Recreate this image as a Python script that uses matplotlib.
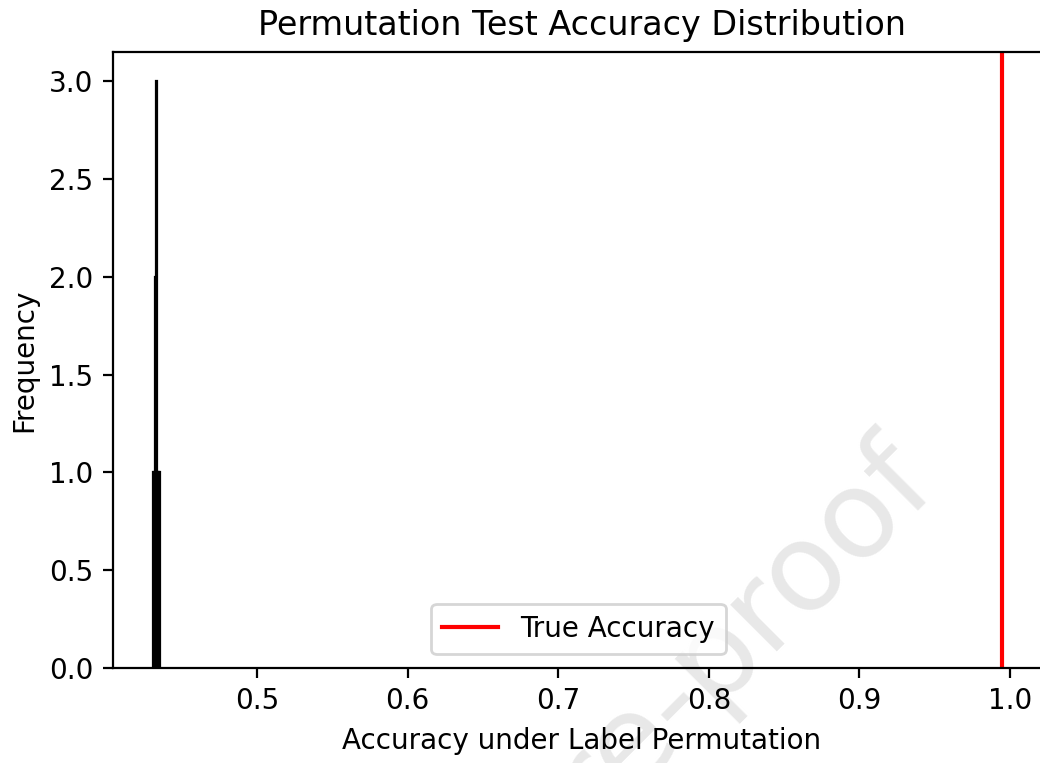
import numpy as np
import matplotlib
matplotlib.use('Agg')
import matplotlib.pyplot as plt

# accuracies obtained with shuffled labels
perm_accuracies = [0.4312, 0.4317, 0.4322, 0.4326, 0.4328, 0.4331, 0.4332,
                   0.4333, 0.4338, 0.4342, 0.4346, 0.4351, 0.4356]
true_accuracy = 0.9947

DPI = 200
fig = plt.figure(figsize=(1040 / DPI, 763 / DPI), dpi=DPI)
# the original figure is cropped on the right: the right spine lies past the edge
ax = fig.add_axes([0.1087, 0.1245, 0.901, 0.8073])
ax.patch.set_alpha(0)  # let the watermark show through

ax.hist(perm_accuracies, bins=10, edgecolor='black', linewidth=0.8)
ax.axvline(true_accuracy, color='red', linewidth=1.5, label='True Accuracy')
ax.set_xlim(0.4044, 1.0266)

ax.set_title('Permutation Test Accuracy Distribution')
ax.set_xlabel('Accuracy under Label Permutation')
ax.set_ylabel('Frequency')
ax.legend(loc='lower center', bbox_to_anchor=(0.4965, 0.0))

# faint journal watermark, behind everything
fig.text(918 / 1040, 1 - 470 / 763, 'Journal Pre-proof', fontsize=44,
         color='#e8e8e8', rotation=45, rotation_mode='anchor',
         ha='right', va='center', zorder=-1)

fig.savefig('out.png', dpi=DPI, facecolor='white')
